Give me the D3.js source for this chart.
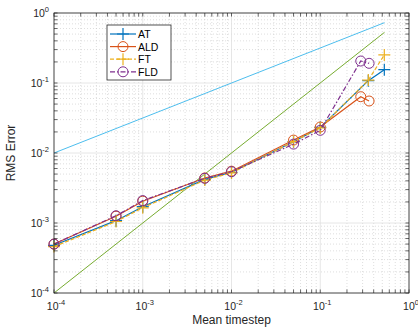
<!DOCTYPE html>
<html>
<head>
<meta charset="utf-8">
<script src="https://cdn.jsdelivr.net/npm/d3@7"></script>
<style>
  body { margin: 0; background: #fff; }
  svg { font-family: "Liberation Sans", Arial, sans-serif; }
</style>
</head>
<body>
<div id="chart"></div>
<script>
// data
const atX  = [1e-4, 5e-4, 1e-3, 5e-3, 1e-2, 5e-2, 0.1, 0.348, 0.527];
const atY  = [4.8e-4, 1.08e-3, 1.71e-3, 4.2e-3, 5.3e-3, 0.0145, 0.0232, 0.108, 0.155];
const aldX = [1e-4, 5e-4, 1e-3, 5e-3, 1e-2, 5e-2, 0.1, 0.286, 0.355];
const aldY = [5.0e-4, 1.25e-3, 2.05e-3, 4.4e-3, 5.5e-3, 0.0153, 0.0235, 0.0637, 0.0553];
const ftX  = [1e-4, 5e-4, 1e-3, 5e-3, 1e-2, 5e-2, 0.1, 0.348, 0.527];
const ftY  = [4.6e-4, 1.05e-3, 1.65e-3, 4.1e-3, 5.2e-3, 0.0145, 0.0228, 0.110, 0.252];
const fldX = [1e-4, 5e-4, 1e-3, 5e-3, 1e-2, 5e-2, 0.1, 0.286, 0.355];
const fldY = [5.0e-4, 1.27e-3, 2.09e-3, 4.35e-3, 5.4e-3, 0.0134, 0.0211, 0.206, 0.191];
const refX    = [1e-4, 0.53];
const refHalf = [1e-2, 0.728];
const refOne  = [1e-4, 0.53];
const tickExps = [-4, -3, -2, -1, 0];

const width = 418, height = 328;
const margin = {top: 13, right: 9, bottom: 35, left: 54};
const w = width - margin.left - margin.right;
const h = height - margin.top - margin.bottom;

const svg = d3.select("#chart").append("svg")
  .attr("width", width).attr("height", height);
const g = svg.append("g").attr("transform", `translate(${margin.left},${margin.top})`);

const x = d3.scaleLog().domain([1e-4, 1]).range([0, w]);
const y = d3.scaleLog().domain([1e-4, 1]).range([h, 0]);

// minor values
const minors = [];
for (let e = -4; e < 0; e++) for (let k = 2; k <= 9; k++) minors.push(k * Math.pow(10, e));
const majors = tickExps.map(e => Math.pow(10, e));

// grids
g.selectAll(".mgx").data(minors).enter().append("line")
  .attr("x1", d => x(d)).attr("x2", d => x(d)).attr("y1", 0).attr("y2", h)
  .attr("stroke", "#c8c8c8").attr("stroke-width", 0.6).attr("stroke-dasharray", "1,2");
g.selectAll(".mgy").data(minors).enter().append("line")
  .attr("y1", d => y(d)).attr("y2", d => y(d)).attr("x1", 0).attr("x2", w)
  .attr("stroke", "#c8c8c8").attr("stroke-width", 0.6).attr("stroke-dasharray", "1,2");
g.selectAll(".Mgx").data(majors).enter().append("line")
  .attr("x1", d => x(d)).attr("x2", d => x(d)).attr("y1", 0).attr("y2", h)
  .attr("stroke", "#e0e0e0").attr("stroke-width", 0.8);
g.selectAll(".Mgy").data(majors).enter().append("line")
  .attr("y1", d => y(d)).attr("y2", d => y(d)).attr("x1", 0).attr("x2", w)
  .attr("stroke", "#e0e0e0").attr("stroke-width", 0.8);

const line = d3.line().x(d => x(d[0])).y(d => y(d[1]));
const zip = (a, b) => a.map((v, i) => [v, b[i]]);

// reference slopes
g.append("path").datum(zip(refX, refHalf)).attr("d", line)
  .attr("fill", "none").attr("stroke", "#4DBEEE").attr("stroke-width", 1);
g.append("path").datum(zip(refX, refOne)).attr("d", line)
  .attr("fill", "none").attr("stroke", "#77AC30").attr("stroke-width", 1);

const series = [
  {name: "AT",  xs: atX,  ys: atY,  color: "#0072BD", dash: null,        marker: "plus"},
  {name: "ALD", xs: aldX, ys: aldY, color: "#D95319", dash: null,        marker: "circle"},
  {name: "FT",  xs: ftX,  ys: ftY,  color: "#EDB120", dash: "4,2",       marker: "plus"},
  {name: "FLD", xs: fldX, ys: fldY, color: "#7E2F8E", dash: "5,2,1.5,2", marker: "circle"}
];

function drawMarker(sel, type, color) {
  if (type === "circle") {
    sel.append("circle").attr("r", 5).attr("fill", "none")
      .attr("stroke", color).attr("stroke-width", 1);
  } else {
    sel.append("path").attr("d", "M-6,0H6M0,-6V6").attr("fill", "none")
      .attr("stroke", color).attr("stroke-width", 1.2);
  }
}

series.forEach(s => {
  const pts = zip(s.xs, s.ys);
  g.append("path").datum(pts).attr("d", line)
    .attr("fill", "none").attr("stroke", s.color).attr("stroke-width", 1.2)
    .attr("stroke-dasharray", s.dash);
  g.selectAll(null).data(pts).enter().append("g")
    .attr("transform", d => `translate(${x(d[0])},${y(d[1])})`)
    .each(function() { drawMarker(d3.select(this), s.marker, s.color); });
});

// frame and ticks
const axisColor = "#262626";
g.append("rect").attr("width", w).attr("height", h)
  .attr("fill", "none").attr("stroke", axisColor).attr("stroke-width", 0.8);
const tl = 3.5;
[[minors, tl], [majors, tl]].forEach(([vals, len]) => {
  vals.forEach(v => {
    const px = x(v), py = y(v);
    g.append("line").attr("x1", px).attr("x2", px).attr("y1", h).attr("y2", h - len).attr("stroke", axisColor).attr("stroke-width", 0.7);
    g.append("line").attr("x1", px).attr("x2", px).attr("y1", 0).attr("y2", len).attr("stroke", axisColor).attr("stroke-width", 0.7);
    g.append("line").attr("y1", py).attr("y2", py).attr("x1", 0).attr("x2", len).attr("stroke", axisColor).attr("stroke-width", 0.7);
    g.append("line").attr("y1", py).attr("y2", py).attr("x1", w).attr("x2", w - len).attr("stroke", axisColor).attr("stroke-width", 0.7);
  });
});

// tick labels
tickExps.forEach(e => {
  const v = Math.pow(10, e);
  const tx = g.append("text").attr("x", x(v) + 2).attr("y", h + 17)
    .attr("text-anchor", "middle").attr("fill", axisColor).attr("font-size", 10.5);
  tx.append("tspan").text("10");
  tx.append("tspan").attr("dy", -5).attr("font-size", 7.5).text(e);
  const ty = g.append("text").attr("x", -5).attr("y", y(v) + 4)
    .attr("text-anchor", "end").attr("fill", axisColor).attr("font-size", 10.5);
  ty.append("tspan").text("10");
  ty.append("tspan").attr("dy", -5).attr("font-size", 7.5).text(e);
});

// axis titles
svg.append("text").attr("x", margin.left + w / 2).attr("y", height - 4)
  .attr("text-anchor", "middle").attr("font-size", 12).attr("fill", axisColor)
  .text("Mean timestep");
svg.append("text")
  .attr("transform", `translate(15,${margin.top + h / 2}) rotate(-90)`)
  .attr("text-anchor", "middle").attr("font-size", 12).attr("fill", axisColor)
  .text("RMS Error");

// legend
const lg = svg.append("g").attr("transform", "translate(107,25)");
lg.append("rect").attr("width", 64).attr("height", 55)
  .attr("fill", "#fff").attr("stroke", axisColor).attr("stroke-width", 0.8);
series.forEach((s, i) => {
  const row = lg.append("g").attr("transform", `translate(0,${9 + i * 12.6})`);
  row.append("line").attr("x1", 3).attr("x2", 29).attr("stroke", s.color)
    .attr("stroke-width", 1.2).attr("stroke-dasharray", s.dash);
  const m = row.append("g").attr("transform", "translate(16,0)");
  drawMarker(m, s.marker, s.color);
  row.append("text").attr("x", 31).attr("y", 4).attr("font-size", 10.5)
    .attr("fill", "#000").text(s.name);
});
</script>
</body>
</html>
